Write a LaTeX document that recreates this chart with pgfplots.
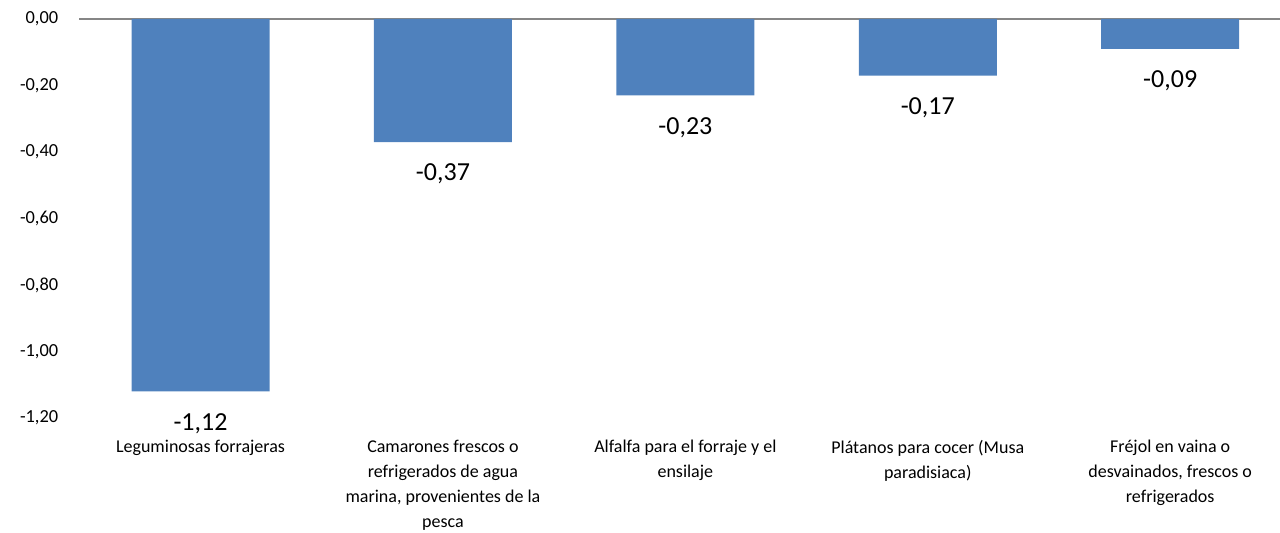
\documentclass[border=0pt]{standalone}
\usepackage{fontspec}
\setmainfont{Carlito}
\usepackage{pgfplots}
\pgfplotsset{compat=1.18}
\definecolor{barblue}{HTML}{4F81BD}
\definecolor{axgray}{HTML}{868686}
\begin{document}
\begin{tikzpicture}
\useasboundingbox (0,0) rectangle (640pt,-266.5pt);
\begin{axis}[
  at={(39.65pt,-9.5pt)}, anchor=north west,
  scale only axis, width=600.35pt, height=199.5pt,
  xmin=-0.5, xmax=4.453, ymin=-1.2, ymax=0,
  ybar, bar width=69pt,
  axis line style={draw=none},
  major tick length=0pt,
  xtick={0,1,2,3,4},
  xticklabels={{Leguminosas forrajeras},
    {Camarones frescos o\\refrigerados de agua\\marina, provenientes de la\\pesca},
    {Alfalfa para el forraje y el\\ensilaje},
    {Plátanos para cocer (Musa\\paradisiaca)},
    {Fréjol en vaina o\\desvainados, frescos o\\refrigerados}},
  xticklabel style={align=center, font=\fontsize{9pt}{12.5pt}\selectfont, anchor=north, yshift=-7.5pt},
  ytick={0,-0.2,-0.4,-0.6,-0.8,-1.0,-1.2},
  yticklabel style={font=\fontsize{9.2pt}{11pt}\selectfont, anchor=east, xshift=-7pt,
    /pgf/number format/.cd, fixed, fixed zerofill, precision=2, use comma, assume math mode=true},
  extra y ticks={0},
  extra y tick labels={},
  extra y tick style={grid=major, major grid style={axgray, line width=1pt}},
  clip=false,
  nodes near coords={\pgfmathprintnumber[fixed, fixed zerofill, precision=2, use comma, assume math mode=true]{\pgfplotspointmeta}},
  every node near coord/.append style={anchor=center, yshift=-16pt, font=\fontsize{13pt}{15pt}\selectfont, text=black},
]
\addplot[fill=barblue, draw=none] coordinates {(0,-1.12) (1,-0.37) (2,-0.23) (3,-0.17) (4,-0.09)};
\end{axis}
\end{tikzpicture}
\end{document}
